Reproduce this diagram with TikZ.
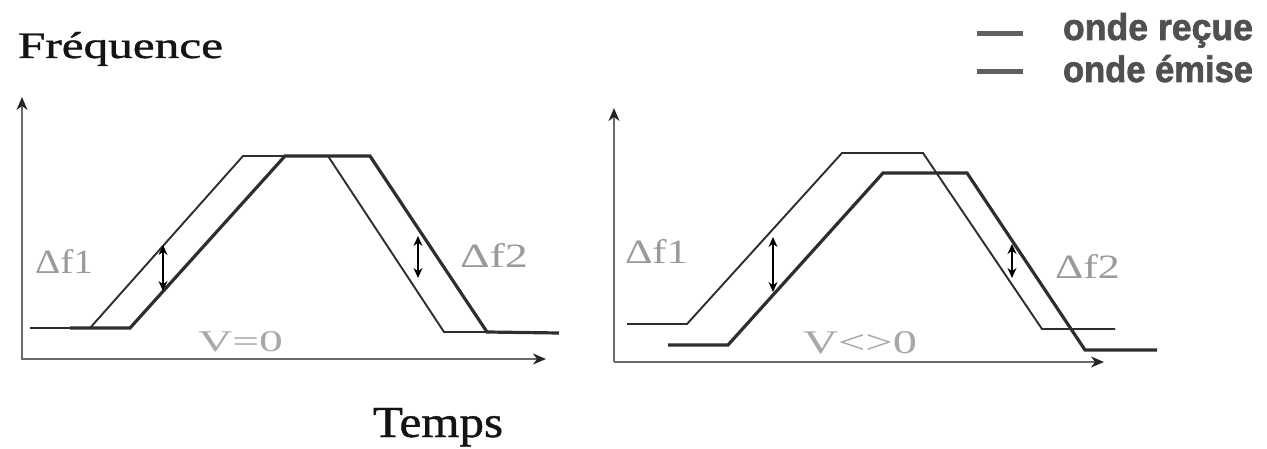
\documentclass[tikz,border=0pt]{standalone}
\usepackage{fontspec}
\usepackage{graphicx}
\usetikzlibrary{arrows.meta}
\setmainfont{Liberation Serif}
\newfontfamily\titf{Liberation Serif}[FakeBold=0.9]
\newfontfamily\legf{Liberation Sans}[BoldFeatures={FakeBold=1.8}]
\definecolor{axisgray}{HTML}{6A6A6A}
\definecolor{linedark}{HTML}{2E2E2E}
\definecolor{labgray}{HTML}{9A9A9A}
\definecolor{vgray}{HTML}{A8A8A8}
\definecolor{leggray}{HTML}{505050}
\definecolor{legline}{HTML}{606060}
\tikzset{
  axisline/.style={draw=axisgray, line width=1.5pt, -{Stealth[length=13pt,width=11pt,inset=4pt,color=black!85]}},
  thinwave/.style={draw=linedark, line width=1.9pt, line join=miter},
  thickwave/.style={draw=linedark, line width=3.2pt, line join=miter},
  deltaarrow/.style={draw=black, line width=1.1pt, {Stealth[length=10pt,width=9pt]}-{Stealth[length=10pt,width=9pt]}},
  txt/.style={inner sep=0pt, outer sep=0pt, anchor=base west},
  legstroke/.style={draw=legline, line width=5pt}
}
\begin{document}
\begin{tikzpicture}[x=1pt,y=-1pt]
\useasboundingbox (0,0) rectangle (1267,449);
% titles
\node[txt, text=black!92] (freq) at (18,58) {\resizebox{205pt}{26pt}{\titf Fréquence}};
\node[txt, text=black!92] (temps) at (373,437) {\resizebox{130pt}{29pt}{\titf Temps}};
% legend
\coordinate (l1a) at (977,34); \coordinate (l1b) at (1023,34);
\coordinate (l2a) at (977,72); \coordinate (l2b) at (1023,72);
\draw[legstroke] (l1a) -- (l1b);
\draw[legstroke] (l2a) -- (l2b);
\node[txt, text=leggray] (recue) at (1063,40) {\resizebox{190pt}{27pt}{\legf\bfseries onde reçue}};
\node[txt, text=leggray] (emise) at (1063,82) {\resizebox{190pt}{27pt}{\legf\bfseries onde émise}};
% ---------- left plot ----------
\coordinate (Lo) at (22,360);
\coordinate (Ly) at (22,97);
\coordinate (Lx0) at (22,359);
\coordinate (Lx) at (546,359);
\draw[axisline] (Lo) -- (Ly);
\draw[axisline] (Lx0) -- (Lx);
\draw[thinwave] (30,328) -- (90,328) -- (243,156) -- (328,156) -- (444,332) -- (500,332);
\draw[thickwave] (70,328) -- (130,328) -- (285,156) -- (370,156) -- (487,332) -- (559,333);
\coordinate (Ld1a) at (163,245); \coordinate (Ld1b) at (163,291);
\coordinate (Ld2a) at (418,236); \coordinate (Ld2b) at (418,278);
\draw[deltaarrow] (Ld1a) -- (Ld1b);
\draw[deltaarrow] (Ld2a) -- (Ld2b);
\node[txt, text=labgray] (Ldf1) at (35,273) {\resizebox{58pt}{24pt}{Δf1}};
\node[txt, text=labgray] (Ldf2) at (460,268) {\resizebox{68pt}{24pt}{Δf2}};
\node[txt, text=vgray] (Lv) at (198,352) {\resizebox{85pt}{20pt}{V=0}};
% ---------- right plot ----------
\coordinate (Ro) at (614,362);
\coordinate (Ry) at (614,108);
\coordinate (Rx) at (1104,362);
\draw[axisline] (Ro) -- (Ry);
\draw[axisline] (Ro) -- (Rx);
\draw[thinwave] (627,324) -- (687,324) -- (842,153) -- (923,153) -- (1042,329) -- (1115,329);
\draw[thickwave] (668,345) -- (728,345) -- (883,173) -- (967,173) -- (1085,350) -- (1157,350);
\coordinate (Rd1a) at (773,237); \coordinate (Rd1b) at (773,292);
\coordinate (Rd2a) at (1012,244); \coordinate (Rd2b) at (1012,278);
\draw[deltaarrow] (Rd1a) -- (Rd1b);
\draw[deltaarrow] (Rd2a) -- (Rd2b);
\node[txt, text=labgray] (Rdf1) at (625,263) {\resizebox{63pt}{24pt}{Δf1}};
\node[txt, text=labgray] (Rdf2) at (1055,278) {\resizebox{65pt}{24pt}{Δf2}};
\node[txt, text=vgray] (Rv) at (803,353) {\resizebox{114pt}{22pt}{V<>0}};
\end{tikzpicture}
\end{document}
